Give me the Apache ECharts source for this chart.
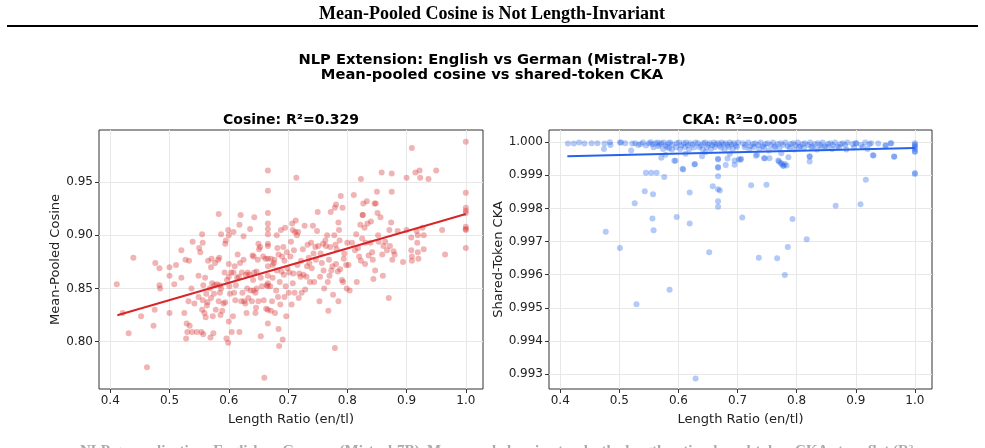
<!DOCTYPE html>
<html><head><meta charset="utf-8">
<script src="https://cdn.jsdelivr.net/npm/echarts@6/dist/echarts.min.js"></script>
<style>html,body{margin:0;padding:0;background:#fff;}#c{width:985px;height:448px;}</style>
</head><body><div id="c"></div>
<script>
// ---------- data ----------
const pageTitle = 'Mean-Pooled Cosine is Not Length-Invariant';
const supTitle = ['NLP Extension: English vs German (Mistral-7B)', 'Mean-pooled cosine vs shared-token CKA'];
const leftTitle = 'Cosine: R²=0.329';
const rightTitle = 'CKA: R²=0.005';
const xName = 'Length Ratio (en/tl)';
const leftYName = 'Mean-Pooled Cosine';
const rightYName = 'Shared-Token CKA';
const footText = 'NLP generalization: English vs German (Mistral-7B). Mean-pooled cosine tracks the length ratio, shared-token CKA stays flat (R²';

const xTicks = [0.4, 0.5, 0.6, 0.7, 0.8, 0.9, 1.0];
const cosTicks = [0.80, 0.85, 0.90, 0.95];
const ckaTicks = [0.993, 0.994, 0.995, 0.996, 0.997, 0.998, 0.999, 1.000];

// Cosine scatter: [length ratio, mean-pooled cosine]
const cosinePoints = [
[0.411,0.854],[0.421,0.827],[0.431,0.808],[0.439,0.879],[0.452,0.824],[0.462,0.776],[0.473,0.815],[0.475,0.830],[0.476,0.874],[0.483,0.853],[0.484,0.850],[0.483,0.869],
[0.500,0.870],[0.500,0.862],[0.500,0.827],[0.508,0.854],[0.511,0.872],[0.520,0.886],[0.520,0.860],[0.525,0.827],[0.527,0.877],[0.528,0.803],[0.529,0.817],[0.530,0.809],[0.532,0.838],[0.533,0.876],[0.534,0.815],[0.537,0.850],[0.539,0.894],[0.538,0.809],
[0.542,0.836],[0.546,0.809],[0.549,0.862],[0.549,0.842],[0.550,0.888],[0.552,0.884],[0.554,0.809],[0.555,0.830],[0.555,0.901],[0.556,0.893],[0.556,0.839],[0.557,0.853],[0.557,0.807],[0.559,0.827],[0.560,0.860],[0.561,0.823],[0.562,0.845],[0.563,0.834],[0.564,0.837],[0.565,0.876],
[0.568,0.850],[0.569,0.804],[0.570,0.841],[0.570,0.870],[0.571,0.878],[0.572,0.855],[0.573,0.824],[0.574,0.808],[0.575,0.845],[0.576,0.853],[0.577,0.874],[0.578,0.830],[0.580,0.854],[0.582,0.877],[0.583,0.838],[0.583,0.920],[0.584,0.879],[0.585,0.853],[0.585,0.846],[0.586,0.825],
[0.587,0.901],[0.587,0.850],[0.589,0.829],[0.591,0.836],[0.593,0.865],[0.594,0.837],[0.594,0.892],[0.595,0.895],[0.596,0.803],[0.597,0.858],[0.599,0.905],[0.599,0.799],[0.600,0.819],[0.600,0.900],[0.600,0.873],[0.600,0.861],[0.601,0.852],[0.602,0.845],[0.604,0.865],[0.605,0.809],
[0.607,0.824],[0.608,0.903],[0.608,0.865],[0.609,0.846],[0.610,0.871],[0.611,0.839],[0.612,0.853],[0.614,0.860],[0.615,0.882],[0.617,0.861],[0.618,0.809],[0.618,0.910],[0.619,0.874],[0.620,0.919],[0.621,0.838],[0.622,0.865],[0.623,0.846],[0.625,0.899],[0.625,0.877],[0.626,0.838],
[0.628,0.836],[0.629,0.863],[0.630,0.827],[0.631,0.850],[0.632,0.865],[0.633,0.841],[0.635,0.863],[0.636,0.906],[0.637,0.848],[0.639,0.838],[0.640,0.881],[0.641,0.858],[0.642,0.848],[0.642,0.880],[0.643,0.917],[0.643,0.865],[0.645,0.846],[0.645,0.827],[0.646,0.832],[0.647,0.866],
[0.647,0.850],[0.649,0.877],[0.650,0.892],[0.650,0.838],[0.651,0.887],[0.653,0.889],[0.654,0.805],[0.654,0.860],[0.656,0.852],[0.658,0.880],[0.659,0.839],[0.660,0.766],[0.662,0.878],[0.663,0.831],[0.664,0.853],
[0.666,0.961],[0.666,0.942],[0.666,0.921],[0.666,0.911],[0.666,0.906],[0.666,0.901],[0.666,0.892],[0.666,0.890],[0.666,0.878],[0.666,0.871],[0.666,0.862],[0.666,0.855],[0.666,0.852],[0.666,0.830],[0.666,0.817],
[0.670,0.852],[0.671,0.878],[0.671,0.829],[0.673,0.838],[0.674,0.872],[0.674,0.860],[0.676,0.874],[0.677,0.877],[0.678,0.827],[0.680,0.848],[0.681,0.900],[0.681,0.867],[0.682,0.888],[0.683,0.842],[0.684,0.882],[0.684,0.812],[0.685,0.796],[0.686,0.856],[0.687,0.835],[0.688,0.905],
[0.689,0.866],[0.690,0.880],[0.691,0.802],[0.692,0.889],[0.693,0.863],[0.694,0.876],[0.694,0.842],[0.695,0.907],[0.696,0.852],[0.697,0.824],[0.698,0.884],[0.699,0.869],[0.701,0.846],[0.702,0.865],[0.704,0.880],[0.705,0.894],[0.706,0.835],[0.707,0.911],[0.708,0.855],[0.708,0.905],
[0.709,0.864],[0.710,0.886],[0.711,0.846],[0.712,0.903],[0.713,0.914],[0.714,0.954],[0.715,0.900],[0.716,0.872],[0.717,0.903],[0.718,0.841],[0.719,0.864],[0.721,0.861],[0.722,0.876],[0.723,0.846],[0.725,0.887],[0.726,0.863],[0.728,0.909],[0.729,0.849],[0.731,0.861],[0.732,0.871],
[0.733,0.891],[0.735,0.879],[0.736,0.874],[0.737,0.856],[0.739,0.893],[0.740,0.869],[0.742,0.909],[0.743,0.883],[0.744,0.856],[0.746,0.889],[0.747,0.877],[0.749,0.904],[0.750,0.922],[0.751,0.890],[0.753,0.838],[0.754,0.861],[0.755,0.883],[0.757,0.874],[0.759,0.892],[0.760,0.867],
[0.761,0.850],[0.763,0.895],[0.764,0.890],[0.766,0.900],[0.767,0.856],[0.768,0.829],[0.769,0.877],[0.770,0.862],[0.771,0.889],[0.772,0.922],[0.773,0.867],[0.775,0.871],[0.776,0.844],[0.778,0.900],[0.779,0.926],[0.779,0.794],[0.780,0.891],[0.781,0.929],[0.781,0.873],[0.782,0.887],
[0.784,0.866],[0.785,0.838],[0.785,0.912],[0.786,0.905],[0.787,0.895],[0.788,0.868],[0.789,0.937],[0.791,0.858],[0.792,0.926],[0.793,0.856],[0.794,0.878],[0.795,0.883],[0.798,0.872],[0.799,0.850],[0.800,0.893],[0.802,0.872],[0.804,0.848],[0.808,0.893],[0.811,0.938],[0.813,0.886],
[0.815,0.901],[0.816,0.856],[0.818,0.888],[0.820,0.880],[0.822,0.910],[0.823,0.953],[0.823,0.876],[0.825,0.897],[0.826,0.919],[0.826,0.919],[0.827,0.930],[0.829,0.907],[0.830,0.873],[0.831,0.893],[0.833,0.932],[0.834,0.911],[0.836,0.881],[0.839,0.893],[0.840,0.913],[0.842,0.884],
[0.843,0.877],[0.844,0.859],[0.846,0.930],[0.847,0.867],[0.848,0.930],[0.850,0.941],[0.851,0.921],[0.852,0.900],[0.853,0.894],[0.856,0.917],[0.858,0.959],[0.859,0.882],[0.860,0.862],[0.861,0.890],[0.864,0.894],[0.867,0.886],[0.870,0.841],[0.871,0.905],[0.872,0.890],[0.874,0.912],
[0.875,0.958],[0.875,0.941],[0.876,0.877],[0.878,0.885],[0.880,0.882],[0.885,0.904],[0.894,0.875],[0.900,0.954],[0.900,0.905],[0.908,0.898],[0.908,0.886],[0.909,0.880],[0.909,0.876],[0.909,0.982],[0.915,0.959],[0.917,0.904],[0.918,0.893],[0.919,0.900],[0.919,0.884],[0.920,0.878],
[0.922,0.961],[0.923,0.954],[0.927,0.907],[0.929,0.900],[0.929,0.887],[0.937,0.953],[0.950,0.961],[0.960,0.905],[0.965,0.882],
[1.0,0.988],[1.0,0.940],[1.0,0.926],[1.0,0.923],[1.0,0.921],[1.0,0.908],[1.0,0.906],[1.0,0.905],[1.0,0.888]
];

// CKA scatter: [length ratio, shared-token CKA]
const ckaPoints = [
[0.413,0.99996],[0.423,0.99996],[0.432,0.99999],[0.441,0.99996],[0.453,0.99997],[0.463,0.99997],[0.474,0.99980],[0.475,0.99996],[0.484,1.00000],[0.485,0.99992],[0.501,0.99999],[0.503,0.99999],[0.510,0.99997],[0.520,0.99975],[0.522,0.99996],[0.527,0.99997],[0.532,0.99992],[0.536,0.99995],[0.540,0.99999],[0.545,0.99990],
[0.550,0.99997],[0.553,1.00000],[0.556,0.99994],[0.561,0.99997],[0.565,0.99999],[0.568,0.99993],[0.571,0.99953],[0.571,0.99997],[0.575,0.99999],[0.578,0.99990],[0.583,0.99997],[0.584,0.99982],[0.586,0.99999],[0.590,0.99993],[0.593,0.99944],[0.597,0.99997],[0.601,0.99999],[0.605,0.99990],[0.608,0.99918],[0.609,0.99997],
[0.613,0.99999],[0.616,0.99991],[0.620,0.99997],[0.624,0.99993],[0.627,0.99933],[0.629,0.99999],[0.633,0.99997],[0.638,0.99990],[0.642,0.99997],[0.645,0.99999],[0.646,0.99970],[0.650,0.99993],[0.653,0.99997],[0.657,0.99991],[0.660,0.99999],[0.663,0.99994],[0.667,0.99997],[0.667,0.99950],[0.667,0.99925],[0.670,0.99990],
[0.673,0.99999],[0.676,0.99994],[0.680,0.99997],[0.683,0.99991],[0.687,0.99999],[0.690,0.99993],[0.694,0.99997],[0.697,0.99990],[0.701,0.99999],
[0.558,0.99985],[0.566,0.99988],[0.574,0.99980],[0.581,0.99986],[0.589,0.99978],[0.596,0.99985],[0.603,0.99980],[0.611,0.99986],[0.618,0.99978],[0.626,0.99984],[0.635,0.99986],[0.641,0.99978],[0.648,0.99985],[0.655,0.99980],[0.662,0.99986],[0.672,0.99984],[0.678,0.99977],[0.685,0.99986],[0.692,0.99980],[0.699,0.99986],
[0.578,0.99962],[0.687,0.99965],[0.695,0.99945],[0.640,0.99958],[0.612,0.99965],[0.706,0.99950],
[0.709,0.99997],[0.713,0.99992],[0.718,0.99999],[0.722,0.99988],[0.726,0.99995],[0.730,0.99997],[0.735,0.99992],[0.739,0.99999],[0.743,0.99988],[0.747,0.99995],[0.751,0.99997],[0.756,0.99992],[0.760,0.99999],[0.764,0.99988],[0.768,0.99995],[0.773,0.99997],[0.777,0.99992],[0.781,0.99999],[0.785,0.99988],[0.790,0.99995],
[0.794,0.99997],[0.798,0.99992],[0.802,0.99999],[0.806,0.99988],[0.810,0.99995],[0.814,0.99997],[0.819,0.99992],[0.823,0.99999],[0.827,0.99988],[0.831,0.99995],[0.836,0.99997],[0.840,0.99992],[0.844,0.99999],[0.848,0.99988],[0.853,0.99995],[0.857,0.99997],[0.861,0.99992],[0.865,0.99999],[0.869,0.99988],[0.874,0.99995],
[0.878,0.99997],[0.882,0.99992],[0.886,0.99999],[0.895,0.99995],[0.900,0.99997],[0.909,0.99992],[0.916,0.99999],[0.923,0.99995],[0.926,0.99997],[0.938,0.99996],[0.951,0.99990],[0.959,0.99997],
[0.712,0.99985],[0.720,0.99978],[0.728,0.99986],[0.737,0.99980],[0.745,0.99985],[0.753,0.99975],[0.762,0.99984],[0.771,0.99980],[0.788,0.99984],[0.796,0.99978],[0.804,0.99986],[0.812,0.99982],[0.825,0.99985],[0.834,0.99978],[0.842,0.99984],[0.851,0.99986],[0.860,0.99980],[0.872,0.99985],[0.884,0.99978],[0.897,0.99984],[0.912,0.99986],[0.920,0.99980],
[0.733,0.99962],[0.746,0.99952],[0.769,0.99945],[0.773,0.99937],[0.777,0.99929],[0.780,0.99934],[0.822,0.99957],[0.822,0.99942],[0.930,0.99960],[0.965,0.99957],[1.0,0.99972],[1.0,0.99907],
[1.0,0.99997],[1.0,0.99993],[1.0,0.99989],[1.0,0.99985],[1.0,0.99980],
[0.477,0.99730],[0.501,0.99681],[0.526,0.99816],[0.529,0.99511],[0.543,0.99852],[0.545,0.99908],[0.554,0.99908],[0.556,0.99770],[0.557,0.99843],[0.558,0.99734],[0.563,0.99908],[0.576,0.99895],[0.585,0.99555],[0.595,0.99944],[0.597,0.99774],[0.607,0.99920],[0.619,0.99755],[0.619,0.99848],[0.628,0.99934],[0.629,0.99287],
[0.652,0.99668],[0.658,0.99867],[0.667,0.99948],[0.667,0.99923],[0.667,0.99897],[0.667,0.99858],[0.667,0.99822],[0.667,0.99805],[0.670,0.99854],[0.680,0.99931],[0.683,0.99951],[0.695,0.99932],[0.702,0.99948],[0.705,0.99947],[0.708,0.99773],[0.723,0.99870],[0.731,0.99959],[0.736,0.99651],[0.745,0.99952],[0.749,0.99872],
[0.754,0.99952],[0.767,0.99650],[0.770,0.99942],[0.774,0.99967],[0.775,0.99934],[0.778,0.99929],[0.780,0.99599],[0.783,0.99930],[0.785,0.99684],[0.786,0.99955],[0.793,0.99768],[0.817,0.99707],[0.822,0.99957],[0.866,0.99808],[0.908,0.99813],[0.917,0.99887],[0.929,0.99961],[0.965,0.99956],[1.0,0.99971],[1.0,0.99904],
[0.950,0.99990],[0.960,0.99997],[0.901,0.99997]
];

// fitted regression line endpoints
const fitX = [0.412, 1.0];
const cosFitY = [0.8248, 0.9200];
const ckaFitY = [0.99958, 0.99983];

// ---------- chart ----------
const RED = '#d62728', BLUE = '#2563eb';
const chart = echarts.init(document.getElementById('c'), null, {renderer: 'canvas'});
const tickColor = '#333', labelColor = '#222';
const FONT = '"DejaVu Sans", sans-serif';

function xAxisCfg(gridIndex) {
  return {
    type: 'value', gridIndex, min: 0.381, max: 1.029,
    axisLine: {show: false},
    axisTick: {show: true, customValues: xTicks, length: 4, lineStyle: {color: tickColor}},
    axisLabel: {customValues: xTicks, formatter: v => v.toFixed(1), color: labelColor, fontSize: 12, margin: 6, fontFamily: FONT},
    splitLine: {show: true, lineStyle: {color: '#e8e8e8', width: 1}},
    name: xName, nameLocation: 'middle', nameGap: 24,
    nameTextStyle: {fontSize: 13, color: labelColor, fontFamily: FONT}
  };
}
function yAxisCfg(gridIndex, min, max, ticks, dec, name, gap) {
  return {
    type: 'value', gridIndex, min, max,
    axisLine: {show: false},
    axisTick: {show: true, customValues: ticks, length: 4, lineStyle: {color: tickColor}},
    axisLabel: {customValues: ticks, formatter: v => v.toFixed(dec), color: labelColor, fontSize: 12, margin: 6, fontFamily: FONT},
    splitLine: {show: true, lineStyle: {color: '#e8e8e8', width: 1}},
    name, nameLocation: 'middle', nameGap: gap,
    nameTextStyle: {fontSize: 13, color: labelColor, fontFamily: FONT}
  };
}

const option = {
  animation: false,
  backgroundColor: '#fff',
  grid: [
    {left: 99, top: 130, width: 384, height: 259, show: true, borderColor: '#333', borderWidth: 1, backgroundColor: 'transparent'},
    {left: 549, top: 130, width: 383, height: 259, show: true, borderColor: '#333', borderWidth: 1, backgroundColor: 'transparent'}
  ],
  xAxis: [xAxisCfg(0), xAxisCfg(1)],
  yAxis: [
    yAxisCfg(0, 0.7555, 0.999, cosTicks, 2, leftYName, 33),
    yAxisCfg(1, 0.99255, 1.00037, ckaTicks, 3, rightYName, 41)
  ],
  series: [
    {type: 'scatter', xAxisIndex: 0, yAxisIndex: 0, data: cosinePoints, symbolSize: 6,
     itemStyle: {color: RED, opacity: 0.35}},
    {type: 'line', xAxisIndex: 0, yAxisIndex: 0, data: fitX.map((x, i) => [x, cosFitY[i]]),
     showSymbol: false, symbol: 'none', lineStyle: {color: RED, width: 2}, z: 5},
    {type: 'scatter', xAxisIndex: 1, yAxisIndex: 1, data: ckaPoints, symbolSize: 6,
     itemStyle: {color: BLUE, opacity: 0.35}},
    {type: 'line', xAxisIndex: 1, yAxisIndex: 1, data: fitX.map((x, i) => [x, ckaFitY[i]]),
     showSymbol: false, symbol: 'none', lineStyle: {color: BLUE, width: 2}, z: 5}
  ],
  graphic: [
    {type: 'text', x: 492, y: 14, style: {text: pageTitle, font: 'bold 18px "Liberation Serif", serif', fill: '#000', align: 'center', verticalAlign: 'middle'}},
    {type: 'line', shape: {x1: 7, y1: 26, x2: 978, y2: 26}, style: {stroke: '#000', lineWidth: 2}},
    {type: 'text', x: 492, y: 60, style: {text: supTitle[0], font: 'bold 14.7px "DejaVu Sans", sans-serif', fill: '#000', align: 'center', verticalAlign: 'middle'}},
    {type: 'text', x: 492, y: 75, style: {text: supTitle[1], font: 'bold 14.7px "DejaVu Sans", sans-serif', fill: '#000', align: 'center', verticalAlign: 'middle'}},
    {type: 'text', x: 291, y: 120, style: {text: leftTitle, font: 'bold 14px "DejaVu Sans", sans-serif', fill: '#000', align: 'center', verticalAlign: 'middle'}},
    {type: 'text', x: 740, y: 120, style: {text: rightTitle, font: 'bold 14px "DejaVu Sans", sans-serif', fill: '#000', align: 'center', verticalAlign: 'middle'}},
    {type: 'text', x: 80, y: 444, style: {text: footText, font: 'bold 15px "Liberation Serif", serif', fill: '#aaa', align: 'left', verticalAlign: 'top'}}
  ]
};
chart.setOption(option);
</script>
</body></html>
